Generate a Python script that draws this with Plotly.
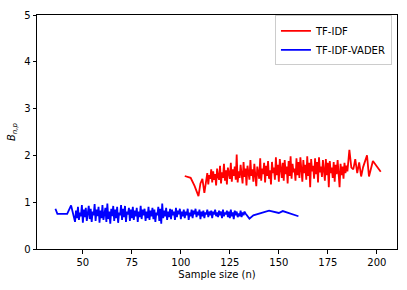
import plotly.graph_objects as go

# TF-IDF series: sparse start, dense middle (half-step sample sizes), sparse end
tfidf_start_x = [102, 105, 107, 109, 110, 111, 112]
tfidf_start_y = [1.56, 1.52, 1.35, 1.13, 1.40, 1.50, 1.20]
tfidf_mid_y = [1.45, 1.62, 1.38, 1.58, 1.50, 1.70, 1.42, 1.66, 1.48, 1.60,
               1.36, 1.72, 1.55, 1.48, 1.78, 1.40, 1.64, 1.52, 1.82, 1.46,
               1.68, 1.38, 1.74, 1.58, 1.50, 1.84, 1.44, 1.70, 1.56, 1.76,
               1.48, 2.02, 1.42, 1.66, 1.52, 1.80, 1.60, 1.40, 1.86, 1.54,
               1.72, 1.36, 1.78, 1.62, 1.48, 1.90, 1.56, 1.70, 1.44, 1.82,
               1.58, 1.34, 1.76, 1.64, 1.50, 1.94, 1.46, 1.72, 1.60, 1.84,
               1.42, 1.78, 1.56, 1.88, 1.50, 1.68, 1.38, 1.86, 1.62, 1.74,
               1.48, 1.96, 1.58, 1.80, 1.44, 1.92, 1.66, 1.52, 1.84, 1.46,
               1.90, 1.60, 1.76, 1.40, 1.88, 1.56, 1.98, 1.50, 1.82, 1.64,
               1.72, 1.46, 1.94, 1.58, 1.86, 1.52, 1.96, 1.68, 1.44, 1.90,
               1.62, 1.80, 1.48, 1.98, 1.56, 1.84, 1.32, 1.92, 1.66, 1.78,
               1.50, 1.94, 1.60, 1.86, 1.42, 1.96, 1.64, 1.76, 1.54, 1.90,
               1.68, 1.46, 1.92, 1.58, 1.84, 1.32, 1.88, 1.62, 1.74, 1.52,
               1.86, 1.44, 1.80, 1.60, 1.90, 1.66, 1.32, 1.82, 1.58, 1.76,
               1.50, 1.84, 1.62, 1.78, 1.66]
tfidf_mid_x = [113 + 0.5 * i for i in range(len(tfidf_mid_y))]
tfidf_end_x = [186, 187, 188, 189, 190, 191, 192, 193, 195, 196, 198, 202]
tfidf_end_y = [2.12, 1.74, 1.70, 1.92, 1.62, 1.85, 1.55, 1.75, 2.00, 1.55, 1.88, 1.65]
tfidf_x = tfidf_start_x + tfidf_mid_x + tfidf_end_x
tfidf_y = tfidf_start_y + tfidf_mid_y + tfidf_end_y

# TF-IDF-VADER series
vader_start_x = [36, 37, 42, 44]
vader_start_y = [0.86, 0.75, 0.75, 0.93]
vader_mid_y = [0.58, 0.82, 0.66, 0.90, 0.62, 0.78, 0.70, 0.94, 0.56, 0.84,
               0.68, 0.88, 0.60, 0.76, 0.92, 0.64, 0.86, 0.58, 0.80, 0.72,
               0.96, 0.60, 0.84, 0.70, 0.90, 0.56, 0.82, 0.66, 0.94, 0.62,
               0.78, 0.88, 0.58, 0.97, 0.64, 0.80, 0.54, 0.86, 0.70, 0.92,
               0.60, 0.84, 0.66, 0.90, 0.56, 0.78, 0.72, 0.94, 0.62, 0.86,
               0.68, 0.92, 0.58, 0.80, 0.74, 0.88, 0.60, 0.84, 0.66, 0.90,
               0.62, 0.82, 0.70, 0.88, 0.58, 0.80, 0.68, 0.92, 0.64, 0.84,
               0.72, 0.86, 0.60, 0.80, 0.66, 0.90, 0.62, 0.82, 0.70, 0.88,
               0.64, 0.84, 0.58, 0.78, 0.72, 0.90, 0.60, 0.86, 0.54, 0.97,
               0.66, 0.82, 0.70, 0.88, 0.62, 0.80, 0.68, 0.86, 0.64, 0.84,
               0.72, 0.80, 0.62, 0.88, 0.68, 0.82, 0.74, 0.86, 0.64, 0.80,
               0.70, 0.84, 0.66, 0.80, 0.72, 0.86, 0.62, 0.78, 0.70, 0.84,
               0.66, 0.82, 0.74, 0.86, 0.68, 0.80, 0.72, 0.84, 0.64, 0.80,
               0.70, 0.82, 0.66, 0.78, 0.74, 0.84, 0.68, 0.80, 0.72, 0.82,
               0.66, 0.80, 0.74, 0.84, 0.70, 0.78, 0.68, 0.82, 0.72, 0.80,
               0.66, 0.84, 0.70, 0.78, 0.74, 0.82, 0.68, 0.80, 0.66, 0.84,
               0.70, 0.78, 0.64, 0.82, 0.72, 0.80, 0.68, 0.76, 0.70, 0.82,
               0.68, 0.78, 0.72, 0.80, 0.76]
vader_mid_x = [46 + 0.5 * i for i in range(len(vader_mid_y))]
vader_end_x = [135, 137, 140, 145, 150, 152, 160]
vader_end_y = [0.65, 0.72, 0.76, 0.82, 0.77, 0.81, 0.70]
vader_x = vader_start_x + vader_mid_x + vader_end_x
vader_y = vader_start_y + vader_mid_y + vader_end_y

x_ticks = [50, 75, 100, 125, 150, 175, 200]
y_ticks = [0, 1, 2, 3, 4, 5]

font = "DejaVu Sans"
fig = go.Figure()
fig.add_trace(go.Scatter(x=tfidf_x, y=tfidf_y, mode="lines", name="TF-IDF",
                         line=dict(color="#ff0000", width=1.8)))
fig.add_trace(go.Scatter(x=vader_x, y=vader_y, mode="lines", name="TF-IDF-VADER",
                         line=dict(color="#0000ff", width=1.8)))

axis_common = dict(showline=True, linecolor="black", linewidth=1, mirror=True,
                   ticks="outside", ticklen=3.5, tickcolor="black", tickwidth=1,
                   showgrid=False, zeroline=False,
                   tickfont=dict(family=font, size=10, color="black"))

fig.update_layout(
    width=407, height=290,
    margin=dict(l=37, r=9, t=12, b=41),
    plot_bgcolor="white", paper_bgcolor="white",
    font=dict(family=font, size=10, color="black"),
    xaxis=dict(range=[26.6, 210.3], tickvals=x_ticks,
               title=dict(text="Sample size (n)", font=dict(family=font, size=10), standoff=4),
               **axis_common),
    yaxis=dict(range=[0, 5], tickvals=y_ticks,
               title=dict(text="<i>B</i><sub><i>n,p</i></sub>", font=dict(family=font, size=10), standoff=6),
               **axis_common),
    legend=dict(x=0.986, y=0.998, xanchor="right", yanchor="top",
                bgcolor="rgba(255,255,255,0.8)", bordercolor="#cccccc", borderwidth=1,
                font=dict(family=font, size=10), tracegroupgap=0),
    showlegend=True,
)

fig.write_html("out.html", config={"displayModeBar": False},
               post_script="document.body.style.margin='0px';")
